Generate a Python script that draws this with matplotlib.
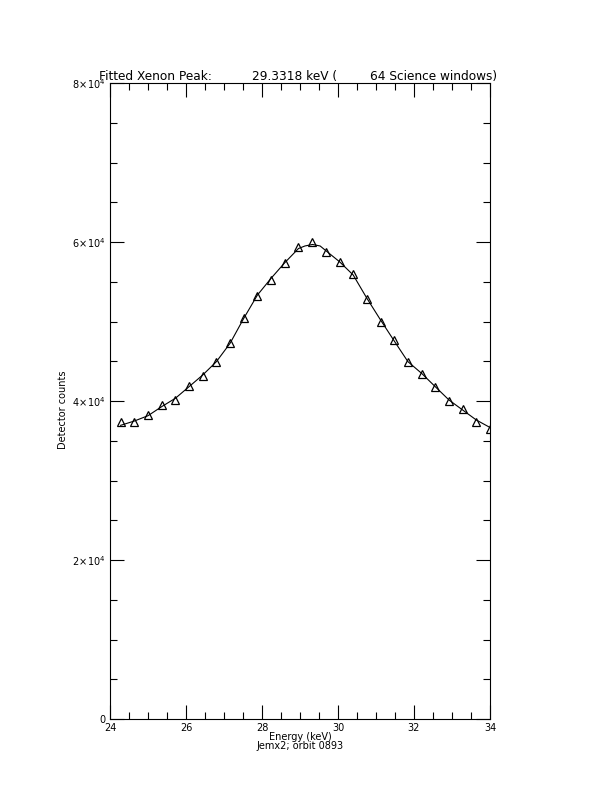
import matplotlib
matplotlib.use("Agg")
import matplotlib.pyplot as plt
from matplotlib.ticker import MultipleLocator, FixedLocator

# measured points (keV, counts)
energy = [24.28, 24.64, 25.00, 25.36, 25.72, 26.08, 26.44, 26.80, 27.16, 27.52,
          27.88, 28.24, 28.60, 28.96, 29.32, 29.68, 30.04, 30.40, 30.76, 31.12,
          31.48, 31.84, 32.20, 32.56, 32.92, 33.28, 33.64, 34.00]
counts = [37320, 37320, 38240, 39500, 40160, 41850, 43180, 44870, 47300, 50400,
          53210, 55260, 57400, 59310, 60040, 58700, 57520, 55980, 52830, 49980,
          47670, 44910, 43400, 41800, 40000, 38960, 37320, 36440]

# fitted curve
fit_energy = [24.28, 24.64, 25.00, 25.36, 25.72, 26.08, 26.44, 26.80, 27.16, 27.52,
              27.88, 28.24, 28.60, 28.96, 29.13, 29.33, 29.53, 29.68, 30.04, 30.40,
              30.76, 31.12, 31.48, 31.84, 32.20, 32.56, 32.92, 33.28, 33.64, 34.00]
fit_counts = [36940, 37480, 38150, 39290, 40340, 41800, 43270, 44950, 47260, 50400,
              53330, 55440, 57400, 59180, 59500, 59690, 59500, 58910, 57520, 55850,
              52920, 50190, 47550, 44950, 43480, 41800, 40130, 38870, 37610, 36670]

ytick_vals = [0, 20000, 40000, 60000, 80000]
ytick_labels = ["0", r"$2\!\times\!10^{4}$", r"$4\!\times\!10^{4}$",
                r"$6\!\times\!10^{4}$", r"$8\!\times\!10^{4}$"]

fig = plt.figure(figsize=(6.12, 7.92), dpi=100)
ax = fig.add_axes([110/612, 73/792, 380/612, 636/792])

ax.plot(fit_energy, fit_counts, color="black", lw=0.8)
ax.plot(energy, counts, linestyle="none", marker="^", ms=5.5, mfc="none",
        mec="black", mew=0.9)

ax.set_xlim(24, 34)
ax.set_ylim(0, 80000)
ax.xaxis.set_major_locator(MultipleLocator(2))
ax.xaxis.set_minor_locator(MultipleLocator(0.5))
ax.yaxis.set_major_locator(FixedLocator(ytick_vals))
ax.yaxis.set_minor_locator(MultipleLocator(5000))
ax.set_yticklabels(ytick_labels)

ax.tick_params(which="both", direction="in", top=True, right=True,
               labelsize=7, width=0.8, pad=3)
ax.tick_params(which="major", length=10)
ax.tick_params(which="minor", length=5)
for s in ax.spines.values():
    s.set_linewidth(0.8)

ax.set_ylabel("Detector counts", fontsize=7)
ax.yaxis.set_label_coords(-0.11, 0.486)

fig.text(99/612, 1 - 80/792, "Fitted Xenon Peak:", fontsize=8.7)
fig.text(252/612, 1 - 80/792, "29.3318 keV (", fontsize=8.7)
fig.text(497/612, 1 - 80/792, "64 Science windows)", fontsize=8.7, ha="right")

fig.text(300/612, 1 - 742/792, "Energy (keV)", fontsize=7, ha="center", va="bottom")
fig.text(300/612, 1 - 751/792, "Jemx2; orbit 0893", fontsize=7, ha="center", va="bottom")

fig.savefig("out.png", dpi=100)
